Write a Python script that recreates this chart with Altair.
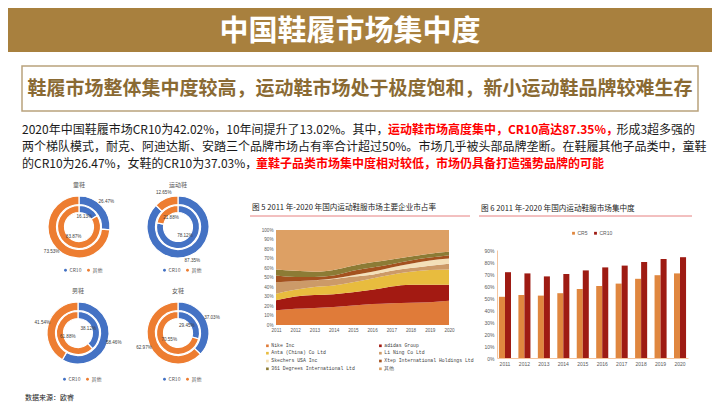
import altair as alt
import pandas as pd

OFF = 8
W, H = 704, 396


def px(v):
    return v - OFF


FONT = "Noto Sans CJK SC"
LATIN = "Liberation Sans"
MONO = "Liberation Mono"

# ---------------- data ----------------
TITLE = "中国鞋履市场集中度"
SUBTITLE = "鞋履市场整体集中度较高，运动鞋市场处于极度饱和，新小运动鞋品牌较难生存"
BODY = [
    [("2020年中国鞋履市场CR10为42.02%，10年间提升了13.02%。其中，", False),
     ("运动鞋市场高度集中，CR10高达87.35%，", True),
     ("形成3超多强的", False)],
    [("两个梯队模式，耐克、阿迪达斯、安踏三个品牌市场占有率合计超过50%。市场几乎被头部品牌垄断。在鞋履其他子品类中，童鞋", False)],
    [("的CR10为26.47%，女鞋的CR10为37.03%，", False),
     ("童鞋子品类市场集中度相对较低，市场仍具备打造强势品牌的可能", True)],
]
SOURCE = "数据来源：欧睿"

DONUT_NAMES = ["童鞋", "运动鞋", "男鞋", "女鞋"]
DONUT_SEGMENTS = ["CR10", "其他"]
DONUT_OUTER = [[26.47, 73.53], [87.35, 12.65], [58.46, 41.54], [37.03, 62.97]]
DONUT_INNER = [[16.13, 83.87], [78.12, 21.88], [38.12, 61.88], [29.45, 70.55]]
DONUT_COLORS = ["#4472C4", "#ED7D31"]

FIG5_TITLE = "图 5 2011 年-2020 年国内运动鞋服市场主要企业市占率"
YEARS = list(range(2011, 2021))
COMPANIES = ["Nike Inc", "adidas Group", "Anta (China) Co Ltd", "Li Ning Co Ltd",
             "Skechers USA Inc", "Xtep International Holdings Ltd",
             "361 Degrees International Ltd", "其他"]
SHARES = {
    "Nike Inc": [15.5, 17, 18, 19, 20.5, 22, 23, 23.5, 24, 25.5],
    "adidas Group": [10.5, 13, 13.5, 13.5, 14, 15, 17.5, 19, 18.5, 17],
    "Anta (China) Co Ltd": [7, 7, 8.5, 9, 10.5, 12, 12.5, 13.5, 15.5, 16],
    "Li Ning Co Ltd": [12, 9, 7, 7, 6, 4, 4, 4, 4.5, 6],
    "Skechers USA Inc": [0, 0, 0, 0.5, 1.5, 3, 3.5, 4.5, 5.5, 5.5],
    "Xtep International Holdings Ltd": [7, 4.5, 3.5, 3, 4.5, 4.5, 3.5, 3.5, 3, 3.5],
    "361 Degrees International Ltd": [6.5, 6.5, 5.5, 6, 5.5, 5.5, 5, 4, 4, 3.5],
    "其他": [41.5, 43, 44, 42, 37.5, 34, 31, 28, 25, 23],
}
AREA_COLORS = ["#E07B39", "#A31A12", "#E8BC3E", "#CC9A68",
               "#F4E0B8", "#A4521F", "#8C7B35", "#DDA064"]
AREA_TICKS = list(range(0, 101, 10))

FIG6_TITLE = "图 6 2011 年-2020 年国内运动鞋服市场集中度"
BAR_SERIES = ["CR5", "CR10"]
CR5 = [51, 52.5, 52, 54, 57.5, 60, 62, 66, 69, 70.5]
CR10 = [71.5, 70.5, 68, 70, 73, 75.5, 77, 80, 82.5, 84]
BAR_COLORS = ["#E0873F", "#9E1B13"]
BAR_TICKS = list(range(0, 91, 10))

BANNER = "#A8803E"
BOX = "#B9A27C"
SUBCOLOR = "#8A6A33"
RED = "#FF0000"


# ---------------- helpers ----------------
def text_width(s, size, bold=False):
    w = 0.0
    for ch in s:
        if ord(ch) >= 0x2E80 or ch in "，。、：":
            w += 1.0
        else:
            f = 1.05 if bold else 1.0
            if ch.isdigit():
                w += 0.56 * f
            elif ch == ".":
                w += 0.28 * f
            elif ch == "%":
                w += 0.87 * f
            elif ch == " ":
                w += 0.25
            elif ch.isupper():
                w += 0.62 * f
            else:
                w += 0.52 * f
    return w * size


def text_layer(s, x, y, size, color="#222222", weight="normal", align="left",
               font=FONT, baseline="middle"):
    return alt.Chart(pd.DataFrame({"t": [s]})).mark_text(
        align=align, baseline=baseline, font=font, fontSize=size,
        fontWeight=weight, color=color
    ).encode(x=alt.value(x), y=alt.value(y), text="t:N")


layers = []

# banner
layers.append(alt.Chart(pd.DataFrame({"a": [0]})).mark_rect(color=BANNER).encode(
    x=alt.value(0), x2=alt.value(W), y=alt.value(0), y2=alt.value(px(52))))
layers.append(text_layer(TITLE, px(350), px(32), 29, color="white", weight="bold", align="center"))

# subtitle box
layers.append(alt.Chart(pd.DataFrame({"a": [0]})).mark_rect(
    fill="white", stroke=BOX, strokeWidth=1.5).encode(
    x=alt.value(px(22)), x2=alt.value(px(698)), y=alt.value(px(66)), y2=alt.value(px(111))))
layers.append(text_layer(SUBTITLE, px(360), px(89), 19, color=SUBCOLOR, weight="bold", align="center"))

# body text
line_y = [130, 147, 164]
for segs, ly in zip(BODY, line_y):
    x = 22.0
    for s, red in segs:
        layers.append(text_layer(s, px(x), px(ly), 12,
                                 color=RED if red else "#1A1A1A",
                                 weight="bold" if red else "normal"))
        x += text_width(s, 12, red)

# ---------------- donuts ----------------
centers = [(79, 227), (178, 227), (78, 333), (178, 333)]
legend_y = [267.5, 267.5, 376.5, 376.5]
for i, name in enumerate(DONUT_NAMES):
    cx, cy = px(centers[i][0]), px(centers[i][1])
    leg = alt.Legend(orient="none", legendX=cx - 16, legendY=px(legend_y[i]),
                     direction="horizontal", symbolType="circle", symbolSize=8,
                     labelFont=FONT, labelFontSize=5, labelColor="#595959",
                     title=None, padding=0, columnPadding=4, labelOffset=1.5,
                     symbolStrokeWidth=0)
    color = alt.Color("seg:N", scale=alt.Scale(domain=DONUT_SEGMENTS, range=DONUT_COLORS),
                      legend=leg)
    sub = []
    for vals, r_out, r_in, r_lab in [(DONUT_OUTER[i], 31, 22.5, 37),
                                     (DONUT_INNER[i], 21.5, 14.5, 11)]:
        df = pd.DataFrame({"seg": DONUT_SEGMENTS, "v": vals, "k": [0, 1]})
        df["label"] = [f"{v:.2f}%" for v in vals]
        base = alt.Chart(df).encode(
            theta=alt.Theta("v:Q", stack=True, scale=alt.Scale(domain=[0, 100])),
            order=alt.Order("k:Q"))
        sub.append(base.mark_arc(outerRadius=r_out, innerRadius=r_in,
                                 stroke="white", strokeWidth=1.2).encode(
            x=alt.value(cx), y=alt.value(cy), color=color))
        sub.append(base.mark_text(radius=r_lab, font=LATIN, fontSize=4.6,
                                  color="#404040").encode(
            x=alt.value(cx), y=alt.value(cy), text="label:N"))
    layers.append(alt.layer(*sub))
    layers.append(text_layer(name, cx, px(centers[i][1] - 42), 6,
                             color="#595959", align="center"))

layers.append(text_layer(SOURCE, px(25), px(398), 7, color="#222222"))

# ---------------- figure 5: stacked area ----------------
layers.append(text_layer(FIG5_TITLE, px(252), px(208), 7.6, color="#222222"))
layers.append(alt.Chart(pd.DataFrame({"a": [0]})).mark_rule(color="#E06060", strokeWidth=0.8).encode(
    x=alt.value(px(250)), x2=alt.value(px(470)), y=alt.value(px(216))))

area_rows = []
for k, c in enumerate(COMPANIES):
    for j, y in enumerate(YEARS):
        area_rows.append({"year": y, "company": c, "share": SHARES[c][j], "k": k})
area_df = pd.DataFrame(area_rows)

area = alt.Chart(area_df).mark_area(interpolate="monotone").encode(
    x=alt.X("year:Q",
            scale=alt.Scale(domain=[2011, 2020], range=[px(276), px(449)], nice=False, zero=False),
            axis=alt.Axis(orient="bottom", offset=px(325) - H, values=YEARS, format="d",
                          labelFont=LATIN, labelFontSize=4.6, labelColor="#595959",
                          ticks=False, domain=False, grid=False, labelPadding=2,
                          labelFlush=False, labelOverlap=False, title=None)),
    y=alt.Y("share:Q", stack="zero",
            scale=alt.Scale(domain=[0, 100], range=[px(325), px(230)], nice=False),
            axis=alt.Axis(orient="left", offset=-px(276), values=AREA_TICKS,
                          labelExpr="datum.value + '%'",
                          labelFont=LATIN, labelFontSize=4.6, labelColor="#595959",
                          ticks=False, domain=False, grid=False, labelPadding=3,
                          labelFlush=False, labelOverlap=False, title=None)),
    color=alt.Color("company:N", scale=alt.Scale(domain=COMPANIES, range=AREA_COLORS),
                    legend=alt.Legend(orient="none", legendX=px(265), legendY=px(343),
                                      direction="horizontal", columns=2,
                                      symbolType="square", symbolSize=7,
                                      labelFont=MONO, labelFontSize=4.8, labelColor="#444444",
                                      title=None, padding=0, rowPadding=1.8,
                                      columnPadding=23, labelOffset=1.5,
                                      symbolStrokeWidth=0)),
    order=alt.Order("k:Q"),
)
layers.append(area)

# ---------------- figure 6: grouped bars ----------------
layers.append(text_layer(FIG6_TITLE, px(481), px(209), 7.6, color="#222222"))
layers.append(alt.Chart(pd.DataFrame({"a": [0]})).mark_rule(color="#E06060", strokeWidth=0.8).encode(
    x=alt.value(px(479)), x2=alt.value(px(692)), y=alt.value(px(216))))

bar_rows = []
for j, y in enumerate(YEARS):
    bar_rows.append({"year": str(y), "series": "CR5", "value": CR5[j]})
    bar_rows.append({"year": str(y), "series": "CR10", "value": CR10[j]})
bar_df = pd.DataFrame(bar_rows)

bars = alt.Chart(bar_df).mark_bar().encode(
    x=alt.X("year:N",
            scale=alt.Scale(domain=[str(y) for y in YEARS], range=[px(497), px(688)],
                            paddingInner=0.38, paddingOuter=0.1),
            axis=alt.Axis(orient="bottom", offset=px(358) - H, labelAngle=0,
                          labelFont=LATIN, labelFontSize=5, labelColor="#595959",
                          ticks=False, domain=True, domainColor="#F4C49E", domainWidth=1,
                          grid=False, labelPadding=3, title=None)),
    xOffset=alt.XOffset("series:N", scale=alt.Scale(domain=BAR_SERIES)),
    y=alt.Y("value:Q",
            scale=alt.Scale(domain=[0, 90], range=[px(358), px(250)], nice=False),
            axis=alt.Axis(orient="left", offset=-px(497), values=BAR_TICKS,
                          labelExpr="datum.value + '%'",
                          labelFont=LATIN, labelFontSize=5, labelColor="#595959",
                          ticks=False, domain=True, domainColor="#F4C49E", domainWidth=1,
                          grid=False, labelPadding=3, labelFlush=False, title=None)),
    color=alt.Color("series:N", scale=alt.Scale(domain=BAR_SERIES, range=BAR_COLORS),
                    legend=alt.Legend(orient="none", legendX=px(571), legendY=px(230.5),
                                      direction="horizontal", symbolType="square",
                                      symbolSize=8, labelFont=LATIN, labelFontSize=5,
                                      labelColor="#595959", title=None, padding=0,
                                      columnPadding=5, labelOffset=1.5,
                                      symbolStrokeWidth=0)),
)
layers.append(bars)

chart = alt.layer(*layers).resolve_scale(
    x="independent", y="independent", color="independent", theta="independent"
).properties(
    width=W, height=H, padding=0,
    autosize=alt.AutoSizeParams(type="none"),
    background="white",
).configure_view(stroke=None)

chart.save("out.html", embed_options={"renderer": "svg", "actions": False})
